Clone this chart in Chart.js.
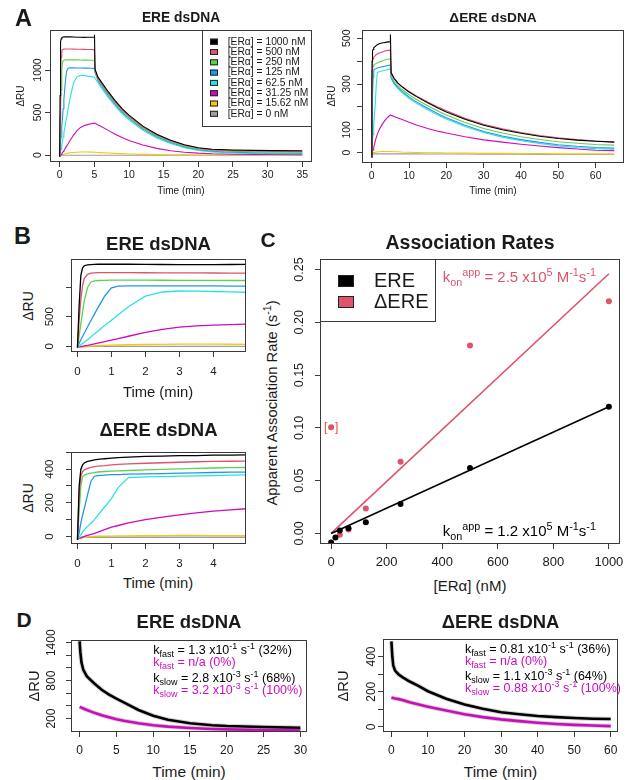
<!DOCTYPE html>
<html lang="en">
<head>
<meta charset="UTF-8">
<title>ERα binding to ERE and ΔERE dsDNA</title>
<script src="https://cdn.jsdelivr.net/npm/chart.js"></script>
<style>
  body { margin: 0; background: #fff; }
  #page { position: relative; width: 627px; height: 780px; overflow: hidden;
          font-family: "Liberation Sans", Arial, sans-serif; color: #1a1a1a; }
  #page canvas { position: absolute; }
  .t { position: absolute; white-space: nowrap; line-height: 1; transform: translate(-50%, -50%); }
  .rot { transform: translate(-50%, -50%) rotate(-90deg); }
  .b { font-weight: bold; }
  .ann { position: absolute; white-space: nowrap; line-height: 1; transform: translateY(-50%); }
  sub, sup { font-size: 72%; line-height: 0; position: relative; vertical-align: baseline; }
  sup { top: -0.55em; }
  sub { top: 0.35em; }
</style>
</head>
<body>
<div id="page"></div>
<script>
// ---------- A / B : sensorgrams ----------
const concLabels = ['1000', '500', '250', '125', '62.5', '31.25', '15.62', '0'];
const concColors = ['#000000', '#DF536B', '#61D04F', '#2297E6', '#28E2E5', '#CD0BBC', '#F5C710', '#9E9E9E'];

// association phase (min), shared by A and B
const tAssoc = [0, 0.05, 0.1, 0.15, 0.2, 0.3, 0.4, 0.5, 0.6, 0.8, 1.0, 1.2, 1.5, 2, 2.5, 3, 3.5, 4, 4.5, 5];
const ereAssoc = [
  [-20, 700, 1200, 1330, 1365, 1380, 1385, 1388, 1390, 1390, 1390, 1390, 1390, 1388, 1386, 1385, 1384, 1385, 1386, 1388],
  [-20, 450, 800, 1030, 1150, 1220, 1240, 1245, 1247, 1248, 1248, 1248, 1247, 1246, 1245, 1244, 1243, 1242, 1241, 1240],
  [-20, 180, 380, 580, 770, 1000, 1090, 1110, 1115, 1118, 1120, 1120, 1120, 1120, 1119, 1118, 1117, 1116, 1115, 1115],
  [-20, 50, 110, 165, 220, 330, 440, 545, 650, 850, 990, 1020, 1025, 1025, 1024, 1024, 1023, 1022, 1021, 1020],
  [-20, 0, 25, 45, 70, 115, 160, 210, 255, 350, 443, 535, 670, 850, 920, 937, 935, 928, 922, 915],
  [-20, -12, -6, 0, 5, 15, 28, 40, 52, 78, 105, 130, 170, 235, 288, 325, 345, 358, 368, 375],
  [-20, -15, -12, -9, -6, -2, 2, 6, 9, 14, 18, 22, 26, 30, 33, 35, 35, 35, 34, 32],
  [-20, -10, -6, -5, -4, -4, -3, -3, -3, -3, -3, -3, -3, -3, -3, -3, -3, -3, -3, -3]
];
const dEreAssoc = [
  [-20, 300, 400, 425, 437, 446, 451, 455, 458, 462, 465, 468, 472, 476, 478, 480, 481, 483, 484, 485],
  [-20, 250, 360, 385, 395, 405, 410, 415, 418, 421, 425, 428, 431, 435, 438, 441, 444, 446, 447, 448],
  [-20, 150, 300, 355, 365, 372, 376, 380, 383, 386, 388, 390, 392, 396, 399, 402, 405, 407, 409, 410],
  [-20, 20, 80, 125, 165, 250, 330, 358, 362, 365, 367, 368, 370, 372, 374, 376, 378, 380, 382, 383],
  [-20, -5, 10, 25, 40, 60, 80, 100, 125, 175, 225, 290, 350, 354, 356, 358, 360, 362, 364, 366],
  [-20, -12, -8, -4, 0, 6, 12, 18, 25, 40, 55, 65, 80, 100, 115, 128, 140, 150, 158, 165],
  [-15, -12, -10, -8, -5, -3, -1, 0, 1, 1, 2, 3, 3, 4, 5, 6, 6, 5, 5, 5],
  [-15, -8, -6, -5, -5, -5, -5, -5, -5, -5, -5, -5, -5, -5, -5, -5, -5, -5, -5, -5]
];

// dissociation phase
const tDissE = [5.02, 5.1, 5.5, 6, 7, 8, 9, 10, 12, 14, 16, 18, 20, 22, 25, 28, 31, 35];
const ereDiss = [
  [1415, 1010, 920, 860, 745, 640, 545, 470, 340, 245, 175, 120, 85, 68, 60, 55, 52, 50],
  [1240, 1000, 905, 845, 728, 625, 532, 457, 330, 237, 167, 114, 79, 61, 52, 47, 44, 42],
  [1115, 990, 895, 832, 715, 612, 520, 445, 318, 227, 158, 106, 71, 53, 43, 38, 35, 33],
  [1020, 970, 880, 815, 700, 597, 506, 432, 306, 215, 147, 97, 62, 44, 33, 27, 24, 22],
  [915, 900, 855, 793, 678, 577, 488, 414, 290, 201, 135, 87, 53, 35, 24, 18, 15, 13],
  [375, 373, 355, 335, 290, 245, 205, 170, 118, 78, 50, 33, 22, 15, 10, 8, 6, 5],
  [32, 32, 30, 28, 24, 20, 16, 13, 8, 5, 3, 2, 1, 0, 0, 0, 0, 0],
  [-3, -3, -3, -3, -3, -3, -3, -3, -3, -3, -3, -3, -3, -3, -3, -3, -3, -3]
];
const tDissD = [5.02, 5.2, 6, 7, 8, 10, 12, 15, 18, 20, 25, 30, 35, 40, 45, 50, 55, 60, 65];
const dEreDiss = [
  [516, 350, 325, 305, 290, 265, 245, 218, 193, 178, 146, 120, 100, 85, 72, 62, 55, 50, 46],
  [448, 345, 322, 303, 290, 267, 248, 222, 198, 183, 150, 124, 104, 88, 75, 65, 57, 51, 47],
  [410, 335, 312, 293, 278, 253, 232, 205, 180, 165, 132, 106, 86, 70, 58, 48, 41, 36, 33],
  [383, 330, 305, 285, 270, 244, 222, 194, 168, 153, 120, 93, 73, 57, 45, 35, 28, 23, 20],
  [366, 325, 300, 280, 265, 238, 216, 188, 162, 147, 114, 88, 68, 52, 40, 30, 23, 18, 15],
  [165, 163, 158, 152, 146, 133, 121, 106, 93, 86, 70, 56, 46, 37, 29, 22, 16, 11, 9],
  [5, 5, 4, 4, 3, 2, 1, 0, 0, -1, -2, -3, -3, -4, -4, -5, -5, -5, -5],
  [-5, -5, -5, -5, -5, -5, -5, -6, -6, -6, -6, -7, -7, -7, -8, -8, -8, -8, -8]
];

// ---------- C : association rates ----------
const conc = [0, 15.62, 31.25, 62.5, 125, 250, 500, 1000];
const kobsEre = [-0.0085, -0.0038, 0.0028, 0.005, 0.0107, 0.0278, 0.062, 0.120];
const kobsDEre = [0.1005, null, -0.0013, 0.0038, 0.0237, 0.068, 0.178, 0.220];
const dEreOutlier = 0;           // bracketed point
const fitConc = [0, 1000];
const fitEre = [0, 0.120];
const fitDEre = [0, 0.246];

// ---------- D : dissociation fits ----------
const tDecE = [0, 0.1, 0.25, 0.5, 1, 2, 3, 4, 5, 6, 8, 10, 12, 15, 18, 20, 25, 30];
const decEre = [1420, 1250, 1090, 970, 865, 755, 655, 580, 515, 455, 335, 245, 180, 125, 95, 82, 65, 55];
const decEre0 = [385, 380, 372, 360, 335, 290, 252, 220, 190, 165, 125, 95, 72, 50, 35, 28, 18, 13];
const tDecD = [0, 0.25, 0.5, 1, 2, 3, 5, 7.5, 10, 15, 20, 25, 30, 35, 40, 45, 50, 55, 60];
const decDEre = [486, 400, 350, 320, 298, 283, 258, 232, 203, 160, 128, 103, 84, 72, 62, 56, 51, 47, 45];
const decDEre0 = [168, 166, 165, 162, 158, 153, 140, 127, 115, 93, 72, 56, 43, 33, 24, 17, 12, 8, 5];

const annEre = [
  ['#000', 'k<sub>fast</sub> = 1.3 x10<sup>-1</sup> s<sup>-1</sup> (32%)'],
  ['#CD0BBC', 'k<sub>fast</sub> = n/a (0%)'],
  ['#000', 'k<sub>slow</sub> = 2.8 x10<sup>-3</sup> s<sup>-1</sup> (68%)'],
  ['#CD0BBC', 'k<sub>slow</sub> = 3.2 x10<sup>-3</sup> s<sup>-1</sup> (100%)']
];
const annDEre = [
  ['#000', 'k<sub>fast</sub> = 0.81 x10<sup>-1</sup> s<sup>-1</sup> (36%)'],
  ['#CD0BBC', 'k<sub>fast</sub> = n/a (0%)'],
  ['#000', 'k<sub>slow</sub> = 1.1 x10<sup>-3</sup> s<sup>-1</sup> (64%)'],
  ['#CD0BBC', 'k<sub>slow</sub> = 0.88 x10<sup>-3</sup> s<sup>-1</sup> (100%)']
];

const FONT = '"Liberation Sans", Arial, sans-serif';
const YW = 34, XH = 30, PT = 16, PR = 14;
const page = document.getElementById('page');

function pts(xs, ys) {
  return xs.map((x, i) => ({ x: x, y: ys[i] })).filter(p => p.y !== null);
}
function curve(xs, ys, color, width) {
  return { data: pts(xs, ys), showLine: true, pointRadius: 0, borderColor: color, borderWidth: width };
}

// R-style box + rotated y labels
function frame(cfg) {
  return {
    id: 'frame',
    afterDraw(chart) {
      const { ctx, chartArea: a } = chart;
      const ys = chart.scales.y;
      ctx.save();
      ctx.strokeStyle = '#3a3a3a';
      ctx.lineWidth = 1;
      ctx.strokeRect(a.left + 0.5, a.top + 0.5, a.width - 1, a.height - 1);
      ctx.fillStyle = '#1a1a1a';
      ctx.font = cfg.size + 'px ' + FONT;
      ctx.textAlign = 'center';
      ctx.textBaseline = 'middle';
      cfg.labels.forEach(v => {
        ctx.save();
        ctx.translate(a.left - cfg.off, ys.getPixelForValue(v));
        ctx.rotate(-Math.PI / 2);
        ctx.fillText(cfg.dec ? v.toFixed(cfg.dec) : String(v), 0, 0);
        ctx.restore();
      });
      ctx.restore();
    }
  };
}

function boxLegend(cfg) {
  return {
    id: 'boxLegend',
    afterDraw(chart) {
      const { ctx, chartArea: a } = chart;
      const x0 = cfg.right ? a.right - cfg.w : a.left, y0 = a.top;
      ctx.save();
      ctx.fillStyle = '#fff';
      ctx.fillRect(x0, y0, cfg.w, cfg.h);
      ctx.strokeStyle = '#3a3a3a';
      ctx.lineWidth = 1;
      ctx.strokeRect(x0 + 0.5, y0 + 0.5, cfg.w - 1, cfg.h - 1);
      ctx.font = cfg.size + 'px ' + FONT;
      ctx.textBaseline = 'middle';
      cfg.labels.forEach((lab, i) => {
        const y = y0 + cfg.first + i * cfg.step;
        ctx.fillStyle = cfg.colors[i];
        ctx.fillRect(x0 + cfg.sx, y - cfg.sh / 2, cfg.sw, cfg.sh);
        ctx.strokeStyle = '#222';
        ctx.strokeRect(x0 + cfg.sx + 0.5, y - cfg.sh / 2 + 0.5, cfg.sw - 1, cfg.sh - 1);
        ctx.fillStyle = '#1a1a1a';
        ctx.fillText(lab, x0 + cfg.tx, y);
      });
      ctx.restore();
    }
  };
}

function panel(box, datasets, xr, yr, xt, yt, st, extra) {
  const [L, T, R, B] = box;
  const c = document.createElement('canvas');
  const w = R - L + YW + PR, h = B - T + PT + XH;
  c.width = w; c.height = h;
  c.style.left = (L - YW) + 'px'; c.style.top = (T - PT) + 'px';
  c.style.width = w + 'px'; c.style.height = h + 'px';
  page.appendChild(c);
  const grid = { drawOnChartArea: false, tickLength: 5, color: '#3a3a3a' };
  return new Chart(c, {
    type: 'scatter',
    data: { datasets: datasets },
    options: {
      responsive: false, animation: false, events: [],
      layout: { padding: { left: 0, top: PT, right: PR, bottom: 0 } },
      plugins: { legend: { display: false }, tooltip: { enabled: false } },
      scales: {
        x: {
          min: xr[0], max: xr[1],
          afterBuildTicks: s => { s.ticks = xt.map(v => ({ value: v })); },
          afterFit: s => { s.height = XH; },
          grid: grid, border: { display: false },
          ticks: { autoSkip: false, maxRotation: 0, padding: st.xpad, color: '#1a1a1a',
                   font: { family: FONT, size: st.fs }, callback: v => String(v) }
        },
        y: {
          min: yr[0], max: yr[1],
          afterBuildTicks: s => { s.ticks = yt.map(v => ({ value: v })); },
          afterFit: s => { s.width = YW; },
          grid: grid, border: { display: false },
          ticks: { display: false }
        }
      }
    },
    plugins: [frame({ labels: st.yl, off: st.yoff, size: st.yfs || st.fs, dec: st.dec })].concat(extra || [])
  });
}

// ---- A ----
const aEre = concLabels.map((c, i) =>
  curve(tAssoc.concat(tDissE), ereAssoc[i].concat(ereDiss[i]), concColors[i], 1.1));
panel([50, 30, 312, 162], aEre, [-1.4, 36.4], [-82, 1471],
  [0, 5, 10, 15, 20, 25, 30, 35], [0, 500, 1000],
  { fs: 10.5, xpad: 2, yl: [0, 500, 1000], yoff: 11.5 },
  [boxLegend({ right: true, w: 110, h: 97, sx: 8, sw: 8, sh: 6, tx: 25.7, first: 11.7, step: 10.3, size: 10.3,
               labels: concLabels.map(c => '[ERα] = ' + c + ' nM'), colors: concColors })]);

const aDEre = concLabels.map((c, i) =>
  curve(tAssoc.concat(tDissD), dEreAssoc[i].concat(dEreDiss[i]), concColors[i], 1.1));
panel([362, 30, 624, 163], aDEre, [-2.6, 67.6], [-45, 536],
  [0, 10, 20, 30, 40, 50, 60], [0, 100, 200, 300, 400, 500],
  { fs: 10.5, xpad: 2, yl: [0, 100, 300, 500], yoff: 14.5 });

// ---- B ----
panel([71, 259, 246, 352], concLabels.map((c, i) => curve(tAssoc, ereAssoc[i], concColors[i], 1.3)),
  [-0.19, 4.96], [-97, 1479], [0, 1, 2, 3, 4], [0, 500, 1000],
  { fs: 11.5, xpad: 8, yl: [0, 500], yoff: 21 });
panel([71, 452, 246, 544], concLabels.map((c, i) => curve(tAssoc, dEreAssoc[i], concColors[i], 1.3)),
  [-0.19, 4.96], [-45, 502], [0, 1, 2, 3, 4], [0, 100, 200, 300, 400, 500],
  { fs: 11.5, xpad: 8, yl: [0, 200, 400], yoff: 21 });

// ---- C ----
const bracket = {
  id: 'bracket',
  afterDatasetsDraw(chart) {
    const { ctx, scales } = chart;
    const x = scales.x.getPixelForValue(conc[dEreOutlier]);
    const y = scales.y.getPixelForValue(kobsDEre[dEreOutlier]);
    ctx.save();
    ctx.fillStyle = '#EE4B3B';
    ctx.font = '12px ' + FONT;
    ctx.textAlign = 'center';
    ctx.textBaseline = 'middle';
    ctx.fillText('[', x - 5.5, y);
    ctx.fillText(']', x + 5.5, y);
    ctx.restore();
  }
};
panel([320, 259, 620, 544], [
    { data: pts(conc, kobsEre), pointRadius: 3, pointBackgroundColor: '#000', pointBorderWidth: 0 },
    { data: pts(conc, kobsDEre), pointRadius: 3, pointBackgroundColor: '#DF536B', pointBorderWidth: 0 },
    curve(fitConc, fitEre, '#000', 1.6),
    curve(fitConc, fitDEre, '#DF536B', 1.6)
  ],
  [-40, 1040], [-0.01, 0.26], [0, 200, 400, 600, 800, 1000], [0, 0.05, 0.1, 0.15, 0.2, 0.25],
  { fs: 13, yfs: 12.5, xpad: 6, yl: [0, 0.05, 0.1, 0.15, 0.2, 0.25], yoff: 20, dec: 2 },
  [bracket, boxLegend({ right: false, w: 116, h: 63, sx: 18, sw: 16, sh: 12, tx: 54, first: 22, step: 21, size: 20,
                        labels: ['ERE', 'ΔERE'], colors: ['#000', '#DF536B'] })]);

// ---- D ----
const halo = 'rgba(175,175,175,0.55)';
panel([71, 640, 307, 732], [
    curve(tDecE, decEre, '#000', 2.6),
    curve(tDecE, decEre0, '#CD0BBC', 2.6),
    curve(tDecE, decEre, halo, 4.5),
    curve(tDecE, decEre0, halo, 4.5)
  ],
  [-1.17, 30.9], [-13, 1443], [0, 5, 10, 15, 20, 25, 30], [200, 400, 600, 800, 1000, 1200, 1400],
  { fs: 12, xpad: 6, yl: [200, 800, 1400], yoff: 19 });
panel([383, 639, 618, 732], [
    curve(tDecD, decDEre, '#000', 2.6),
    curve(tDecD, decDEre0, '#CD0BBC', 2.6),
    curve(tDecD, decDEre, halo, 4.5),
    curve(tDecD, decDEre0, halo, 4.5)
  ],
  [-2.3, 62], [-28.6, 499.4], [0, 10, 20, 30, 40, 50, 60], [0, 100, 200, 300, 400],
  { fs: 12, xpad: 6, yl: [0, 200, 400], yoff: 11 });

// ---------- text ----------
function txt(x, y, html, size, cls) {
  const d = document.createElement('div');
  d.className = 't' + (cls ? ' ' + cls : '');
  d.style.left = x + 'px'; d.style.top = y + 'px'; d.style.fontSize = size + 'px';
  d.innerHTML = html;
  page.appendChild(d);
}
function ann(x, y, html, size, color) {
  const d = document.createElement('div');
  d.className = 'ann';
  d.style.left = x + 'px'; d.style.top = y + 'px'; d.style.fontSize = size + 'px'; d.style.color = color;
  d.innerHTML = html;
  page.appendChild(d);
}

txt(23.5, 18.5, 'A', 23.5, 'b');
txt(181, 18.3, 'ERE dsDNA', 13.8, 'b');
txt(493, 18.3, 'ΔERE dsDNA', 13.7, 'b');
txt(181, 191, 'Time (min)', 10);
txt(493, 191, 'Time (min)', 10);
txt(21, 96, 'ΔRU', 10, 'rot');
txt(332, 96, 'ΔRU', 10, 'rot');

txt(22.5, 236.5, 'B', 23.5, 'b');
txt(158.5, 243.5, 'ERE dsDNA', 18.5, 'b');
txt(158.5, 430, 'ΔERE dsDNA', 18.5, 'b');
txt(158, 391.7, 'Time (min)', 14.8);
txt(158, 583.3, 'Time (min)', 14.8);
txt(28, 305.5, 'ΔRU', 14, 'rot');
txt(28, 498, 'ΔRU', 14, 'rot');

txt(268, 239, 'C', 21, 'b');
txt(470, 242.7, 'Association Rates', 19.5, 'b');
txt(470, 585, '[ERα] (nM)', 15);
txt(271.7, 402.5, 'Apparent Association Rate (s<sup>-1</sup>)', 14.8, 'rot');
ann(442.7, 276, 'k<sub>on</sub><sup>app</sup> = 2.5 x10<sup>5</sup> M<sup>-1</sup>s<sup>-1</sup>', 15, '#DF536B');
ann(442.7, 530, 'k<sub>on</sub><sup>app</sup> = 1.2 x10<sup>5</sup> M<sup>-1</sup>s<sup>-1</sup>', 15, '#000');

txt(24, 619, 'D', 21, 'b');
txt(189, 621.7, 'ERE dsDNA', 18.5, 'b');
txt(500.5, 621.7, 'ΔERE dsDNA', 18.4, 'b');
txt(189, 771.7, 'Time (min)', 15.5);
txt(500.5, 771.7, 'Time (min)', 15.5);
txt(33.5, 686, 'ΔRU', 14.7, 'rot');
txt(343.3, 686, 'ΔRU', 14.7, 'rot');
const rowsE = [650, 661.7, 678.3, 690], rowsD = [649.3, 660.7, 676, 687.7];
annEre.forEach((r, i) => ann(153.3, rowsE[i], r[1], 12.5, r[0]));
annDEre.forEach((r, i) => ann(465, rowsD[i], r[1], 12.5, r[0]));
</script>
</body>
</html>
